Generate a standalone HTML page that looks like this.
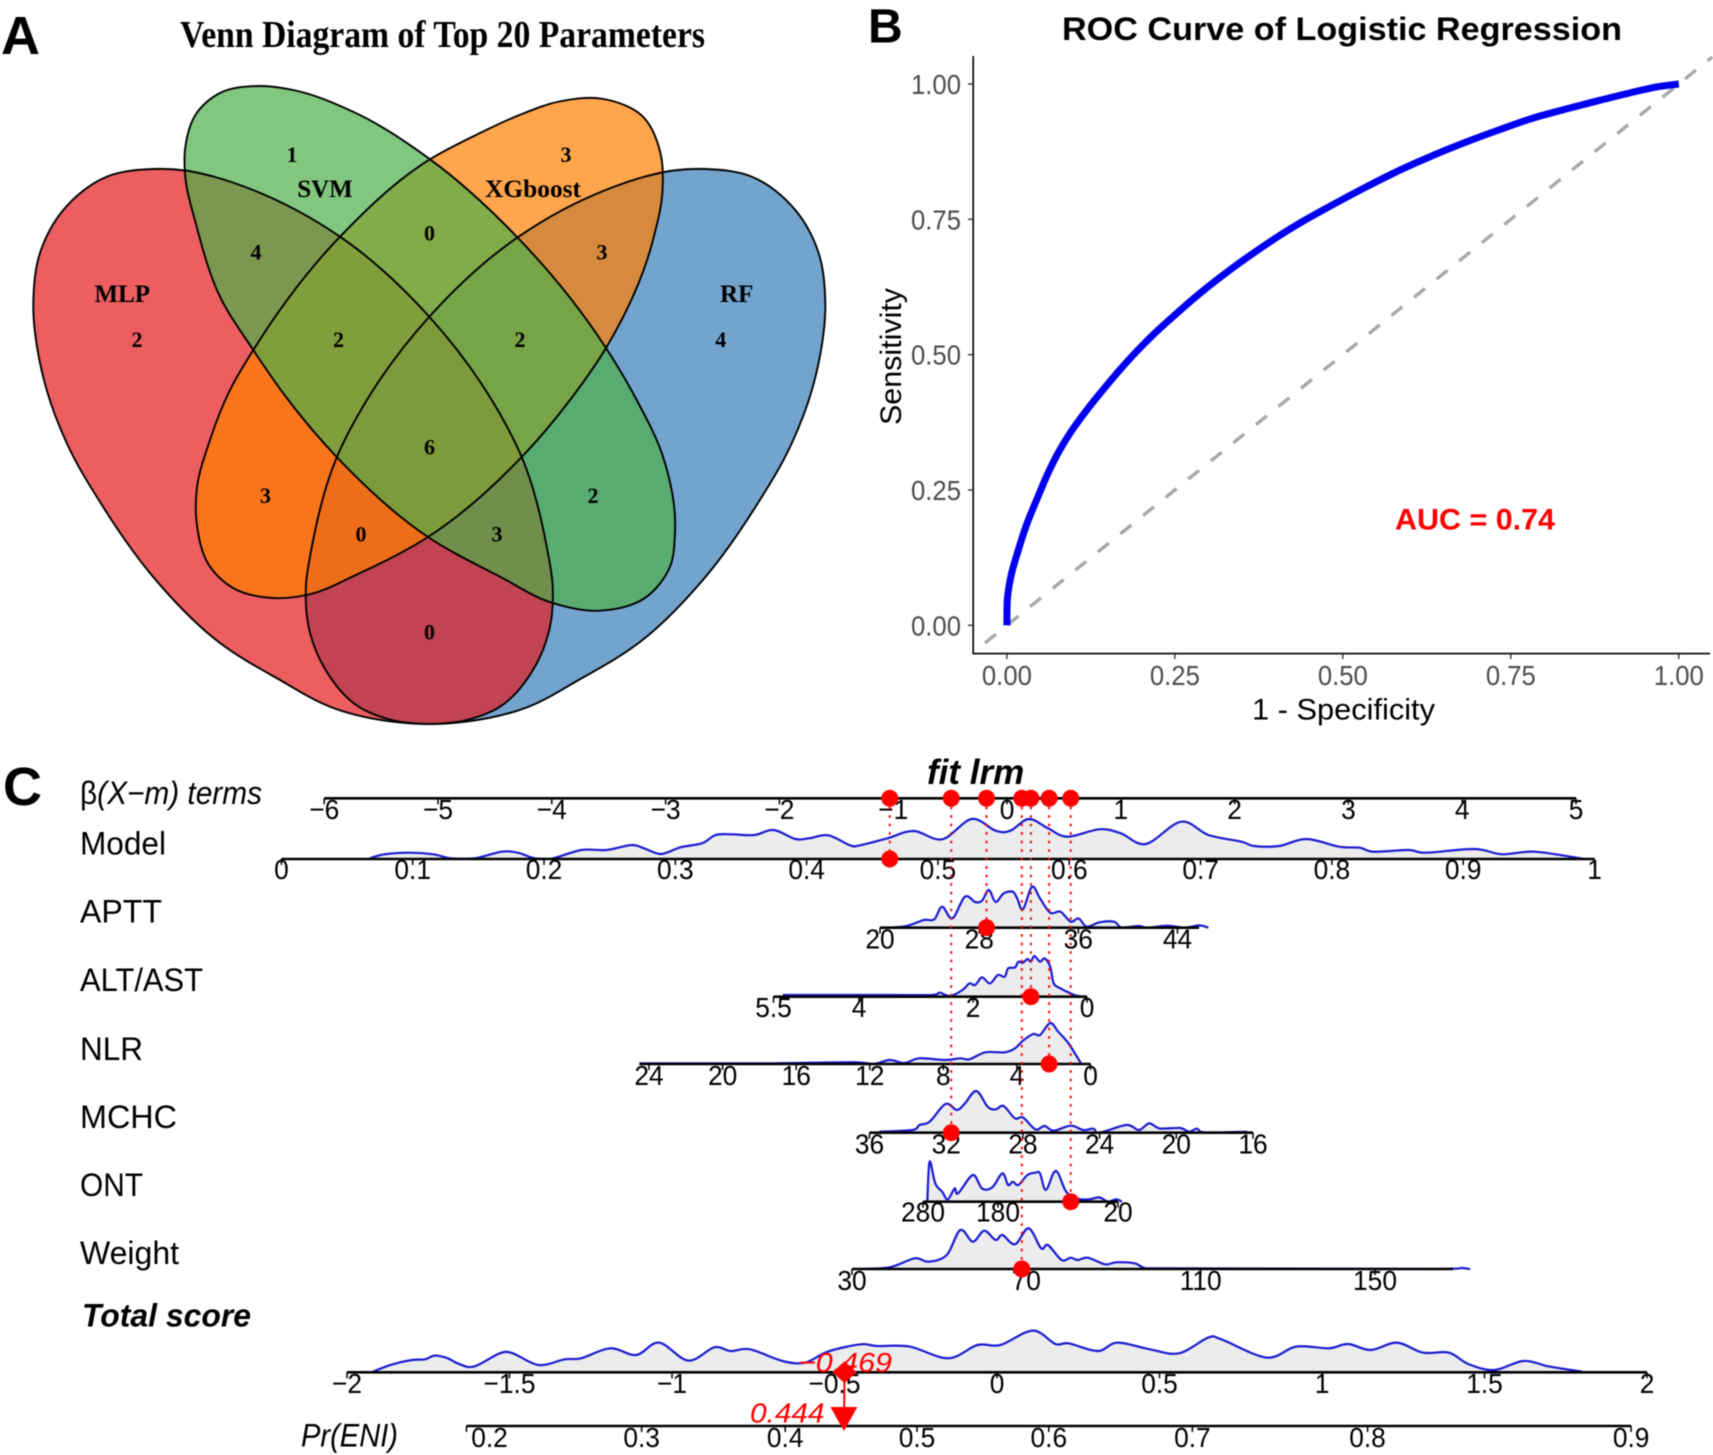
<!DOCTYPE html>
<html lang="en">
<head>
<meta charset="utf-8">
<title>Venn, ROC and nomogram figure</title>
<style>
html,body{margin:0;padding:0;background:#fff;width:1713px;height:1455px;overflow:hidden}
svg{display:block;filter:blur(0.45px)}
.serif{font-family:"Liberation Serif",serif;font-weight:bold;fill:#000}
.sans{font-family:"Liberation Sans",sans-serif}
.num{font-size:22px;text-anchor:middle}
.vl{font-size:25px;text-anchor:middle}
.rowlab{font-family:"Liberation Sans",sans-serif;font-size:32px;fill:#000}
</style>
</head>
<body>
<svg id="fig" xmlns="http://www.w3.org/2000/svg" width="1713" height="1455" viewBox="0 0 1713 1455">
  <rect width="1713" height="1455" fill="#fff"/>

  <!-- Panel A -->
  <g id="panelA">
    <text class="sans" x="1" y="54" font-size="54" font-weight="bold">A</text>
    <text class="serif" x="180" y="47" font-size="38" textLength="525" lengthAdjust="spacingAndGlyphs">Venn Diagram of Top 20 Parameters</text>
    <g fill-opacity="0.7" stroke="none">
      <path id="fillRF" fill="#377eb8"/>
      <path id="fillMLP" fill="#e41a1c"/>
      <path id="fillXG" fill="#ff7f00"/>
      <path id="fillSVM" fill="#4daf4a"/>
    </g>
    <g fill="none" stroke="#000" stroke-width="1.9">
      <path id="lineRF"/>
      <path id="lineMLP"/>
      <path id="lineXG"/>
      <path id="lineSVM"/>
    </g>
    <g class="serif">
      <text class="vl" x="325" y="197">SVM</text>
      <text class="vl" x="533" y="197" textLength="96" lengthAdjust="spacingAndGlyphs">XGboost</text>
      <text class="vl" x="122.3" y="302">MLP</text>
      <text class="vl" x="736.7" y="302">RF</text>
      <text class="num" x="292" y="162">1</text>
      <text class="num" x="566" y="162">3</text>
      <text class="num" x="429.5" y="240.6">0</text>
      <text class="num" x="256" y="259.5">4</text>
      <text class="num" x="602" y="259.5">3</text>
      <text class="num" x="137" y="346.8">2</text>
      <text class="num" x="720.8" y="346.8">4</text>
      <text class="num" x="338.5" y="346.8">2</text>
      <text class="num" x="520" y="346.8">2</text>
      <text class="num" x="429.5" y="454.4">6</text>
      <text class="num" x="265.5" y="503">3</text>
      <text class="num" x="593" y="503">2</text>
      <text class="num" x="361" y="541.7">0</text>
      <text class="num" x="497" y="541.7">3</text>
      <text class="num" x="429.5" y="639.4">0</text>
    </g>
  </g>

  <!-- Panel B -->
  <g id="panelB">
    <text class="sans" x="868" y="42.5" font-size="48" font-weight="bold">B</text>
    <text class="sans" x="1062" y="40" font-size="32" font-weight="bold" textLength="560" lengthAdjust="spacingAndGlyphs">ROC Curve of Logistic Regression</text>
    <text class="sans" font-size="30" transform="translate(900.8 425) rotate(-90)" textLength="137" lengthAdjust="spacingAndGlyphs">Sensitivity</text>
    <text class="sans" x="1252" y="719.7" font-size="30" textLength="183" lengthAdjust="spacingAndGlyphs">1 - Specificity</text>
    <text class="sans" x="1395" y="529.5" font-size="30" font-weight="bold" fill="#ff0000" textLength="160" lengthAdjust="spacingAndGlyphs">AUC = 0.74</text>
    <g id="rocPlot"></g>
  </g>

  <!-- Panel C -->
  <g id="panelC">
    <text class="sans" x="3" y="805" font-size="54" font-weight="bold">C</text>
    <text class="sans" x="927" y="784" font-size="35" font-weight="bold" font-style="italic">fit lrm</text>
    <text class="rowlab" x="80" y="804" textLength="182" lengthAdjust="spacingAndGlyphs">β<tspan font-style="italic">(X−m) terms</tspan></text>
    <text class="rowlab" x="80" y="854.3" textLength="86" lengthAdjust="spacingAndGlyphs">Model</text>
    <text class="rowlab" x="80" y="922.7" textLength="82" lengthAdjust="spacingAndGlyphs">APTT</text>
    <text class="rowlab" x="80" y="991" textLength="123" lengthAdjust="spacingAndGlyphs">ALT/AST</text>
    <text class="rowlab" x="80" y="1060" textLength="63" lengthAdjust="spacingAndGlyphs">NLR</text>
    <text class="rowlab" x="80" y="1128" textLength="97" lengthAdjust="spacingAndGlyphs">MCHC</text>
    <text class="rowlab" x="80" y="1196" textLength="63" lengthAdjust="spacingAndGlyphs">ONT</text>
    <text class="rowlab" x="80" y="1264" textLength="99" lengthAdjust="spacingAndGlyphs">Weight</text>
    <text class="rowlab" x="82" y="1326.7" font-weight="bold" font-style="italic" textLength="169" lengthAdjust="spacingAndGlyphs">Total score</text>
    <text class="rowlab" x="301" y="1446.7" font-style="italic" textLength="97" lengthAdjust="spacingAndGlyphs">Pr(ENI)</text>
    <g id="nomoPlot"></g>
  </g>
</svg>

<script>
// ---------- ROC data ----------
const rocFpr = [0,0.001,0.007,0.017,0.029,0.044,0.059,0.076,0.094,0.119,0.149,0.181,0.217,0.247,0.287,0.327,0.372,0.416,0.436,0.485,0.535,0.585,0.634,0.684,0.734,0.783,0.833,0.883,0.932,0.969,1.0];
const rocTpr = [0,0.053,0.096,0.139,0.185,0.231,0.275,0.318,0.355,0.398,0.444,0.490,0.536,0.570,0.613,0.652,0.692,0.728,0.743,0.777,0.810,0.841,0.868,0.893,0.916,0.937,0.954,0.970,0.985,0.995,1.0];
const rocXTicks = [0,0.25,0.5,0.75,1];
const rocYTicks = [0,0.25,0.5,0.75,1];
const rocXLabels = ['0.00','0.25','0.50','0.75','1.00'];
const rocYLabels = ['0.00','0.25','0.50','0.75','1.00'];
const rocDiagonal = [-0.05,1.05];

// ---------- Nomogram data ----------
const betaTicks = [-6,-5,-4,-3,-2,-1,0,1,2,3,4,5];
const modelTicks = [0,0.1,0.2,0.3,0.4,0.5,0.6,0.7,0.8,0.9,1];
const apttTicks = [20,28,36,44];
const altTicks = [5.5,4,2,0];
const nlrTicks = [24,20,16,12,8,4,0];
const mchcTicks = [36,32,28,24,20,16];
const ontTicks = [280,180,20];
const weightTicks = [30,70,110,150];
const scoreTicks = [-2,-1.5,-1,-0.5,0,0.5,1,1.5,2];
const prTicks = [0.2,0.3,0.4,0.5,0.6,0.7,0.8,0.9];

const modelDensX = [-5.60,-5.47,-5.25,-5.04,-4.89,-4.68,-4.44,-4.30,-4.15,-4.01,-3.74,-3.52,-3.30,-3.19,-3.04,-2.87,-2.68,-2.56,-2.42,-2.22,-2.05,-1.86,-1.74,-1.57,-1.38,-1.29,-1.05,-0.82,-0.57,-0.31,-0.10,0.03,0.19,0.36,0.53,0.81,1.00,1.22,1.53,1.77,2.06,2.17,2.39,2.63,2.92,3.10,3.22,3.53,3.68,4.11,4.35,4.64,5.07];
const modelDensY = [0.7,4.7,6.3,4.7,0.7,0.7,7.3,6.3,0.7,0,9,9,14,10.7,5,11.7,15.7,24,24.7,24,29,20,20.7,23.7,13.7,13.7,20.7,28,19.7,40,28.3,28.3,40,30.7,22.3,29.7,25.7,15,37.3,24,17.3,13,13,20,12.3,11.3,7.3,9,6.3,10,4.7,7.3,0];

const apttDensX = [-1.03,-0.88,-0.73,-0.64,-0.57,-0.48,-0.37,-0.28,-0.22,-0.16,-0.10,-0.03,0.05,0.09,0.14,0.22,0.29,0.38,0.47,0.56,0.63,0.70,0.81,0.94,1.01,1.16,1.23,1.41,1.56,1.69,1.77];
const apttDensY = [0,1.7,7.7,8.3,21,9.3,31,25.7,27,37.7,25.7,34.3,36,29.3,18.3,41,29.3,15,16,6,9.3,1,5.3,6,0,1.7,0,2,0,2.3,0];

const altDensX = [-1.97,-1.54,-1.03,-0.66,-0.59,-0.50,-0.39,-0.33,-0.28,-0.22,-0.15,-0.08,-0.02,0.01,0.07,0.10,0.14,0.18,0.21,0.24,0.29,0.33,0.38,0.41,0.47,0.54,0.61,0.67];
const altDensY = [1.7,1.7,1.7,1.7,4,0.7,6.7,13.3,11.7,19.3,13.3,21.7,20,28.3,29.3,35,34,37.7,35,40.7,35,38.3,30,13.3,8.3,4.3,1,0];

const nlrDensX = [-3.23,-2.85,-2.12,-1.72,-1.32,-1.17,-1.03,-0.90,-0.77,-0.55,-0.41,-0.33,-0.19,-0.02,0.07,0.14,0.23,0.29,0.38,0.45,0.54,0.65];
const nlrDensY = [0.7,0.7,0.7,1.3,1.7,0,4,1,5.7,4,5.7,4.7,11.7,11.7,15.7,23.3,30,29,41,32.3,20.7,0.7];

const mchcDensX = [-1.12,-0.83,-0.77,-0.68,-0.54,-0.44,-0.37,-0.27,-0.17,-0.10,-0.03,0.07,0.14,0.25,0.33,0.41,0.56,0.67,0.76,0.81,1.05,1.16,1.25,1.34,1.52,1.60,1.67,1.74,2.11];
const mchcDensY = [1,2.7,7.7,11,28.7,22.7,29.3,41.7,26,23.3,26.7,14.3,15.3,3.3,6.7,2,7,2.7,4,0,7.7,2.7,9.3,4.3,4.7,1,4,0.3,1];

const ontDensX = [-0.70,-0.68,-0.63,-0.57,-0.52,-0.46,-0.43,-0.30,-0.22,-0.13,-0.04,0.01,0.05,0.10,0.18,0.25,0.29,0.34,0.41,0.45,0.52,0.61,0.72,0.81,0.89,0.96,1.01];
const ontDensY = [0,40,18.3,10,2.3,13.3,8.3,26.7,13.3,14.3,28.3,16.7,20,16.7,26.7,29,28.3,11.7,29,28.3,10,3.3,2.3,4.3,0,2.3,0];

const weightDensX = [-1.29,-1.03,-0.81,-0.69,-0.53,-0.41,-0.30,-0.20,-0.10,-0.04,0.07,0.19,0.30,0.36,0.48,0.56,0.62,0.71,0.86,0.96,1.12,1.22,1.39,3.49,3.92,3.99,4.07];
const weightDensY = [0,1.7,10.7,7.3,14,39,27.3,38.3,29,34,24.7,40.7,20.7,24,9,11.3,9,11.3,4.7,6.7,5.7,0.7,0.7,0,0.3,1,0];

const scoreDensX = [-1.92,-1.86,-1.80,-1.76,-1.73,-1.69,-1.66,-1.61,-1.53,-1.49,-1.41,-1.33,-1.28,-1.19,-1.11,-1.04,-0.95,-0.87,-0.82,-0.76,-0.66,-0.59,-0.52,-0.42,-0.37,-0.27,-0.15,-0.06,0.01,0.11,0.18,0.22,0.31,0.37,0.47,0.56,0.65,0.69,0.83,0.92,1.02,1.08,1.15,1.23,1.31,1.39,1.45,1.53,1.62,1.70,1.80];
const scoreDensY = [0.7,8,12.3,13,16.7,14,9,5.7,19,19,7.3,13,14,24,17.3,29.7,11.7,25,21.3,23,11.3,9.7,20.7,28,26.3,25.7,14,27.3,27.3,41.7,28.3,29,21.3,29.7,23,19,34.7,33,14.7,25.7,24,28.3,22.3,29.7,19.7,19.7,8.3,2.3,11.3,5.7,0.7];

// beta contribution of the evaluated observation in each row
const rowBetaModel = -1.03;
const rowBetaAptt = -0.18;
const rowBetaAlt = 0.21;
const rowBetaNlr = 0.37;
const rowBetaMchc = -0.49;
const rowBetaOnt = 0.56;
const rowBetaWeight = 0.13;
const totalScore = -0.469;
const predictedProb = 0.444;

// ---------- helpers ----------
const NS = 'http://www.w3.org/2000/svg';
function mk(parent, tag, attrs, txt){
  const el = document.createElementNS(NS, tag);
  for (const k in attrs) el.setAttribute(k, attrs[k]);
  if (txt !== undefined) el.textContent = txt;
  parent.appendChild(el);
  return el;
}
function linear(d0, d1, r0, r1){ return v => r0 + (v - d0) * (r1 - r0) / (d1 - d0); }
function fmtMinus(v){ return String(v).replace('-', '\u2212'); }
function f1(n){ return n.toFixed(1); }
// Uniform Catmull-Rom spline; clampY keeps control points above a baseline
function spline(pts, closed, clampY){
  const n = pts.length;
  const at = i => closed ? pts[(i + n) % n] : pts[Math.max(0, Math.min(n - 1, i))];
  let d = '';
  const last = closed ? n : n - 1;
  for (let i = 0; i < last; i++){
    const p0 = at(i - 1), p1 = at(i), p2 = at(i + 1), p3 = at(i + 2);
    let c1y = p1[1] + (p2[1] - p0[1]) / 6, c2y = p2[1] - (p3[1] - p1[1]) / 6;
    if (clampY !== undefined){ c1y = Math.min(c1y, clampY); c2y = Math.min(c2y, clampY); }
    d += ' C' + f1(p1[0] + (p2[0] - p0[0]) / 6) + ',' + f1(c1y) + ' ' + f1(p2[0] - (p3[0] - p1[0]) / 6) + ',' + f1(c2y) + ' ' + f1(p2[0]) + ',' + f1(p2[1]);
  }
  return d;
}
// Chord-length Catmull-Rom: stays smooth when the points are unevenly spaced
function chordSpline(pts, closed){
  const n = pts.length;
  const at = i => closed ? pts[(i + n) % n] : pts[Math.max(0, Math.min(n - 1, i))];
  const dist = (a, b) => Math.hypot(b[0] - a[0], b[1] - a[1]);
  function tangent(a, b, c){
    const d1 = dist(a, b), d2 = dist(b, c);
    if (d1 === 0) return [(c[0] - b[0]) / d2, (c[1] - b[1]) / d2];
    if (d2 === 0) return [(b[0] - a[0]) / d1, (b[1] - a[1]) / d1];
    return [0, 1].map(k => (b[k] - a[k]) / d1 - (c[k] - a[k]) / (d1 + d2) + (c[k] - b[k]) / d2);
  }
  let d = '';
  const last = closed ? n : n - 1;
  for (let i = 0; i < last; i++){
    const p0 = at(i - 1), p1 = at(i), p2 = at(i + 1), p3 = at(i + 2);
    const len = dist(p1, p2);
    const t1 = tangent(p0, p1, p2), t2 = tangent(p1, p2, p3);
    d += ' C' + f1(p1[0] + t1[0] * len / 3) + ',' + f1(p1[1] + t1[1] * len / 3) + ' ' + f1(p2[0] - t2[0] * len / 3) + ',' + f1(p2[1] - t2[1] * len / 3) + ' ' + f1(p2[0]) + ',' + f1(p2[1]);
  }
  return d;
}

// ---------- Venn outlines ----------
(function(){
  const svmOutline = [[260,86],[293,90],[353,111.7],[430,159.3],[518,238],[606,348],[636.7,400],[663,456.7],[675,533],[670,566.7],[646.7,596.7],[600,610.7],[551.7,602.7],[500,576.7],[428,537],[336.7,457],[288.3,400],[253.3,350],[220,296.7],[196.7,226.7],[185,173.3],[185,150],[196.7,113],[220,93]];
  const xgOutline = [[603.4,99],[641.8,115.6],[661,155.7],[662.6,188.8],[652.8,240.7],[606,348],[570,400],[521.7,457],[428,537],[360,573],[306.7,595],[273,598],[233,588],[210,566.7],[196.7,523],[196.7,490],[210,440],[230,390],[253.3,350],[340,236.7],[430,159.3],[477,134.5],[518,115.6],[559.5,101.5]];
  const mlpOutline = [[153,169],[185,170.5],[215,177],[253,190],[340,236.7],[429.3,316.7],[491.7,400],[521.7,457],[546.7,546.7],[552.7,586.7],[550,626.7],[533,670],[500,706.7],[466.7,720],[428,724],[393,721.7],[330,706.7],[280,680],[220,643],[153,576.7],[103,506.7],[66.7,443],[46.7,390],[40,363],[33.3,303],[40,253],[63.3,210],[106.7,176.7]];
  const rfOutline = mlpOutline.map(p => [858.6 - p[0], p[1]]);
  function setPath(key, pts){
    const d = 'M' + pts[0][0] + ',' + pts[0][1] + chordSpline(pts, true) + ' Z';
    document.getElementById('fill' + key).setAttribute('d', d);
    document.getElementById('line' + key).setAttribute('d', d);
  }
  setPath('RF', rfOutline);
  setPath('MLP', mlpOutline);
  setPath('XG', xgOutline);
  setPath('SVM', svmOutline);
})();

// ---------- ROC ----------
const roc = document.getElementById('rocPlot');
const rx = linear(0, 1, 1006.9, 1678.8);
const ry = linear(0, 1, 625.3, 84);
const diag = mk(roc, 'line', {x1: rx(rocDiagonal[0]), y1: ry(rocDiagonal[0]), x2: rx(rocDiagonal[1]), y2: ry(rocDiagonal[1]), stroke: '#a8a8a8', 'stroke-width': 3.4, 'stroke-dasharray': '14 15', 'stroke-dashoffset': -15});


const rocPts = rocFpr.map((f, i) => [rx(f), ry(rocTpr[i])]);
const rocLine = mk(roc, 'path', {d: 'M' + rocPts[0][0] + ',' + rocPts[0][1] + chordSpline(rocPts, false), fill: 'none', stroke: '#0000f0', 'stroke-width': 7, 'stroke-linejoin': 'round', 'stroke-linecap': 'butt'});


const rocYAxis = mk(roc, 'line', {x1: 973.2, y1: 56, x2: 973.2, y2: 654, stroke: '#000', 'stroke-width': 1.6});


const rocXAxis = mk(roc, 'line', {x1: 972.4, y1: 653.6, x2: 1710, y2: 653.6, stroke: '#000', 'stroke-width': 1.6});


rocXTicks.forEach((t, i) => {
  const tk = mk(roc, 'line', {x1: rx(t), y1: 654, x2: rx(t), y2: 659, stroke: '#333', 'stroke-width': 1.4});
  
  
  const lb = mk(roc, 'text', {x: rx(t), y: 685, 'text-anchor': 'middle', 'font-family': '"Liberation Sans",sans-serif', 'font-size': 28, fill: '#4d4d4d', textLength: 50, lengthAdjust: 'spacingAndGlyphs'}, rocXLabels[i]);
  
  
});
rocYTicks.forEach((t, i) => {
  const tk = mk(roc, 'line', {x1: 968, y1: ry(t), x2: 973, y2: ry(t), stroke: '#333', 'stroke-width': 1.4});
  
  
  const lb = mk(roc, 'text', {x: 961, y: ry(t) + 10, 'text-anchor': 'end', 'font-family': '"Liberation Sans",sans-serif', 'font-size': 28, fill: '#4d4d4d', textLength: 50, lengthAdjust: 'spacingAndGlyphs'}, rocYLabels[i]);
  
  
});

// ---------- Nomogram ----------
const nomo = document.getElementById('nomoPlot');
const bx = linear(0, 5, 1007, 1576);
const sx = linear(0, 2, 997, 1647);
const logit = p => Math.log(p / (1 - p));
const px = p => 917 + 325 * logit(p);

function drawDensity(name, xs, ys, xf, axisY){
  const pts = xs.map((v, i) => [xf(v), axisY - ys[i]]);
  const curve = spline(pts, false, axisY);
  const lastPt = pts[pts.length - 1];
  const area = mk(nomo, 'path', {d: 'M' + f1(pts[0][0]) + ',' + axisY + ' L' + f1(pts[0][0]) + ',' + f1(pts[0][1]) + curve + ' L' + f1(lastPt[0]) + ',' + axisY + ' Z', fill: '#ececec', stroke: 'none'});
  
  
  const line = mk(nomo, 'path', {d: 'M' + f1(pts[0][0]) + ',' + f1(pts[0][1]) + curve, fill: 'none', stroke: '#1a1ad2', 'stroke-width': 2.2, 'stroke-linejoin': 'round'});
  
  
}
function drawAxis(name, ticks, xf, axisY, labelY, x0, x1, labelXf){
  const ax = mk(nomo, 'line', {x1: x0, y1: axisY, x2: x1, y2: axisY, stroke: '#000', 'stroke-width': 2.6});
  
  
  ticks.forEach(t => {
    const tk = mk(nomo, 'line', {x1: xf(t), y1: axisY, x2: xf(t), y2: axisY + 6, stroke: '#000', 'stroke-width': 1.5});
    
    
    const lx = labelXf ? labelXf(t) : xf(t);
    const lb = mk(nomo, 'text', {transform: 'translate(' + f1(lx) + ' ' + labelY + ') scale(0.94 1)', 'text-anchor': 'middle', 'font-family': '"Liberation Sans",sans-serif', 'font-size': 28, fill: '#000'}, fmtMinus(t));
    
    
  });
}
function drawDot(name, x, y){
  const d = mk(nomo, 'circle', {cx: x, cy: y, r: 8.5, fill: '#ff0000'});
  
  
}

const yBeta = 798.3, yModel = 859, yAptt = 927.7, yAlt = 996.7, yNlr = 1064, yMchc = 1132.7, yOnt = 1201.7, yWeight = 1269, yScore = 1372.3, yPr = 1426;

const fModel = linear(0, 1, 281.4, 1594.5);
const fAptt = linear(20, 44, 880, 1177.5);
const fAlt = linear(0, 4, 1087, 859);
const fNlr = linear(0, 24, 1090.5, 649);
const fMchc = linear(36, 16, 869.5, 1253);
const fOnt = linear(280, 20, 923, 1118);
const fWeight = linear(30, 150, 852, 1375);

drawDensity('model', modelDensX, modelDensY, v => bx(v), yModel);
drawDensity('aptt', apttDensX, apttDensY, v => bx(v), yAptt);
drawDensity('alt-ast', altDensX, altDensY, v => bx(v), yAlt);
drawDensity('nlr', nlrDensX, nlrDensY, v => bx(v), yNlr);
drawDensity('mchc', mchcDensX, mchcDensY, v => bx(v), yMchc);
drawDensity('ont', ontDensX, ontDensY, v => bx(v), yOnt);
drawDensity('weight', weightDensX, weightDensY, v => bx(v), yWeight);
drawDensity('total-score', scoreDensX, scoreDensY, v => sx(v), yScore);

drawAxis('beta', betaTicks, bx, yBeta, 819, bx(-6), bx(5));
drawAxis('model', modelTicks, fModel, yModel, 879, fModel(0), fModel(1));
drawAxis('aptt', apttTicks, fAptt, yAptt, 948.5, fAptt(20), 1199);
drawAxis('alt-ast', altTicks, fAlt, yAlt, 1017, fAlt(5.5), fAlt(0));
drawAxis('nlr', nlrTicks, fNlr, yNlr, 1085, 639.4, fNlr(0));
drawAxis('mchc', mchcTicks, fMchc, yMchc, 1153.5, fMchc(36), fMchc(16));
drawAxis('ont', ontTicks, fOnt, yOnt, 1221.5, fOnt(280), fOnt(20));
drawAxis('weight', weightTicks, fWeight, yWeight, 1290, fWeight(30), 1453);
drawAxis('total-score', scoreTicks, sx, yScore, 1393, sx(-2), sx(2));
drawAxis('probability', prTicks, px, yPr, 1447, px(0.2), px(0.9), t => t === 0.2 ? px(t) + 23 : px(t));

const obs = [
  ['model', rowBetaModel, yModel],
  ['aptt', rowBetaAptt, yAptt],
  ['alt-ast', rowBetaAlt, yAlt],
  ['nlr', rowBetaNlr, yNlr],
  ['mchc', rowBetaMchc, yMchc],
  ['ont', rowBetaOnt, yOnt],
  ['weight', rowBetaWeight, yWeight]
];
obs.forEach(o => {
  const g = mk(nomo, 'line', {x1: bx(o[1]), y1: yBeta, x2: bx(o[1]), y2: o[2], stroke: '#ff0000', 'stroke-width': 2, 'stroke-dasharray': '2.5 6'});
  
  
});
obs.forEach(o => {
  drawDot(o[0] + '-beta-point', bx(o[1]), yBeta);
  drawDot(o[0] + '-value-point', bx(o[1]), o[2]);
});

// total score / probability markers
const tsX = sx(totalScore), prX = px(predictedProb);
const arrowLine = mk(nomo, 'line', {x1: tsX, y1: yScore, x2: prX, y2: yPr, stroke: '#ff0000', 'stroke-width': 2});


const diamond = mk(nomo, 'polygon', {points: [[tsX, yScore - 11], [tsX + 12, yScore], [tsX, yScore + 11], [tsX - 12, yScore]].map(p => p.join(',')).join(' '), fill: '#ff0000'});


const tri = mk(nomo, 'polygon', {points: [[prX - 13.5, yPr - 19], [prX + 13.5, yPr - 19], [prX, yPr + 5]].map(p => p.join(',')).join(' '), fill: '#ff0000'});


const tsText = mk(nomo, 'text', {x: 798, y: 1372, 'font-family': '"Liberation Sans",sans-serif', 'font-size': 28, 'font-style': 'italic', fill: '#ff0000', textLength: 94, lengthAdjust: 'spacingAndGlyphs'}, fmtMinus(totalScore));


const prText = mk(nomo, 'text', {x: 750, y: 1422.7, 'font-family': '"Liberation Sans",sans-serif', 'font-size': 28, 'font-style': 'italic', fill: '#ff0000', textLength: 74.5, lengthAdjust: 'spacingAndGlyphs'}, String(predictedProb));


</script>
</body>
</html>
